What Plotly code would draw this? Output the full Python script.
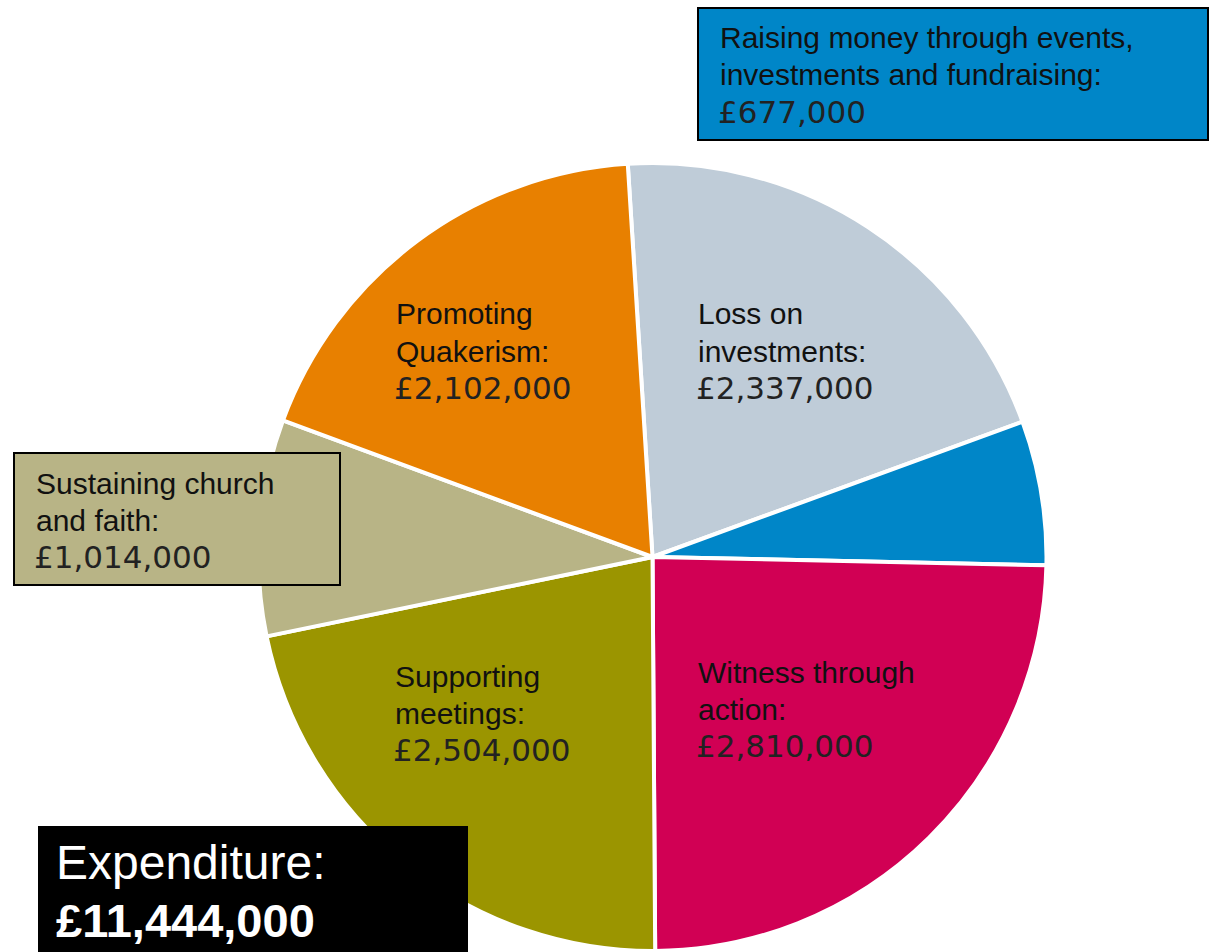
import plotly.graph_objects as go

W, H = 1217, 952

categories = ["Loss on investments", "Raising money through events, investments and fundraising",
              "Witness through action", "Supporting meetings", "Sustaining church and faith",
              "Promoting Quakerism"]
values = [2337000, 677000, 2810000, 2504000, 1014000, 2102000]
colors = ["#BFCCD8", "#0086C8", "#D10054", "#9B9500", "#B8B486", "#E88000"]
total_label = "£11,444,000"

label_lines = {
    "Loss on investments": ["Loss on", "investments:"],
    "Raising money through events, investments and fundraising": ["Raising money through events,", "investments and fundraising:"],
    "Witness through action": ["Witness through", "action:"],
    "Supporting meetings": ["Supporting", "meetings:"],
    "Sustaining church and faith": ["Sustaining church", "and faith:"],
    "Promoting Quakerism": ["Promoting", "Quakerism:"],
}

text_pos = {
    "Loss on investments": (696, 314),
    "Raising money through events, investments and fundraising": (718, 38),
    "Witness through action": (696, 672),
    "Supporting meetings": (393, 676),
    "Sustaining church and faith": (34, 483),
    "Promoting Quakerism": (394, 314),
}

def px(x):
    return x / W

def py(y):
    return 1 - y / H

fig = go.Figure(go.Pie(
    labels=categories,
    values=values,
    sort=False,
    direction="clockwise",
    rotation=-3.6,
    marker=dict(colors=colors, line=dict(color="white", width=4)),
    textinfo="none",
    hoverinfo="label+value",
    showlegend=False,
    domain=dict(x=[px(258), px(1047)], y=[py(951), py(163)]),
))

shapes = [
    dict(type="rect", xref="paper", yref="paper", x0=px(14), x1=px(340), y0=py(585), y1=py(453),
         fillcolor="#B8B486", line=dict(color="black", width=2), layer="above"),
    dict(type="rect", xref="paper", yref="paper", x0=px(698), x1=px(1208), y0=py(140), y1=py(8),
         fillcolor="#0086C8", line=dict(color="black", width=2), layer="above"),
    dict(type="rect", xref="paper", yref="paper", x0=px(38), x1=px(468), y0=py(960), y1=py(826),
         fillcolor="black", line=dict(color="black", width=0), layer="above"),
]

annotations = []
label_font = dict(family="Liberation Sans, Arial, sans-serif", size=30, color="#111111")
num_font = dict(family="DejaVu Sans, sans-serif", size=31, color="#222222")
for cat, v in zip(categories, values):
    x0, y0 = text_pos[cat]
    lines = label_lines[cat]
    for i, ln in enumerate(lines):
        annotations.append(dict(x=px(x0), y=py(y0 + i * 37), xref="paper", yref="paper",
                                text=ln, showarrow=False, xanchor="left", yanchor="middle",
                                font=label_font))
    annotations.append(dict(x=px(x0 - 2), y=py(y0 + len(lines) * 37), xref="paper", yref="paper",
                            text="£{:,}".format(v), showarrow=False, xanchor="left", yanchor="middle",
                            font=num_font))

annotations.append(dict(x=px(54), y=py(862), xref="paper", yref="paper", text="Expenditure:",
                        showarrow=False, xanchor="left", yanchor="middle",
                        font=dict(family="Liberation Sans, Arial, sans-serif", size=48, color="white")))
annotations.append(dict(x=px(54), y=py(920), xref="paper", yref="paper", text="<b>" + total_label + "</b>",
                        showarrow=False, xanchor="left", yanchor="middle",
                        font=dict(family="Liberation Sans, Arial, sans-serif", size=47, color="white")))

fig.update_layout(
    width=W, height=H,
    margin=dict(l=0, r=0, t=0, b=0),
    paper_bgcolor="white", plot_bgcolor="white",
    shapes=shapes, annotations=annotations,
)

fig.write_html("out.html", config={"displayModeBar": False},
               post_script="document.body.style.margin='0';document.body.style.overflow='hidden';")
